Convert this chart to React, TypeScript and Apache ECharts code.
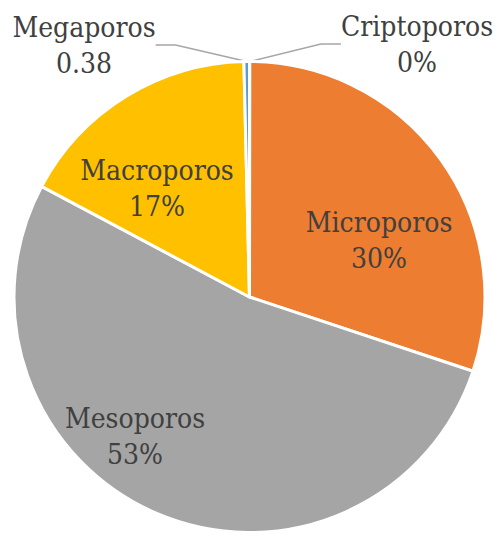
import React, { useEffect, useRef } from "react";
import * as echarts from "echarts";

const categories = ["Criptoporos", "Microporos", "Mesoporos", "Macroporos", "Megaporos"];
const values = [0.02, 30.1, 52.7, 16.85, 0.38];
const valueLabels = ["0%", "30%", "53%", "17%", "0.38"];
const colors = ["#4472C4", "#ED7D31", "#A5A5A5", "#FFC000", "#5B9BD5"];
const outsideSlices = ["Criptoporos", "Megaporos"];

// label centres (layout, not data)
const labelPos: Record<string, [number, number]> = {
  Criptoporos: [417, 44],
  Microporos: [379, 240],
  Mesoporos: [135, 436],
  Macroporos: [157, 188],
  Megaporos: [84, 45],
};

const FONT = "DejaVu Serif Condensed";

export default function App() {
  const ref = useRef<HTMLDivElement>(null);
  useEffect(() => {
    document.body.style.margin = "0";
    const chart = echarts.init(ref.current!, undefined, { renderer: "svg" });
    const data = categories.map((name, i) => {
      const outside = outsideSlices.includes(name);
      return {
        name,
        value: values[i],
        itemStyle: { color: colors[i] },
        label: { position: outside ? "outside" : "inside" },
        labelLine: { show: outside },
      };
    });
    chart.setOption({
      animation: false,
      backgroundColor: "#ffffff",
      textStyle: { fontFamily: FONT },
      series: [
        {
          type: "pie",
          center: [249.5, 297],
          radius: 235.5,
          startAngle: 90,
          clockwise: true,
          avoidLabelOverlap: false,
          data,
          itemStyle: { borderColor: "#ffffff", borderWidth: 3 },
          label: {
            show: true,
            formatter: (p: any) => `${p.name}\n${valueLabels[p.dataIndex]}`,
            fontFamily: FONT,
            fontSize: 28,
            lineHeight: 36,
            color: "#404040",
            align: "center",
          },
          labelLine: {
            lineStyle: { color: "#A6A6A6", width: 1.5 },
            length: 20,
            length2: 20,
          },
          labelLayout: (params: any) => {
            const name = categories[params.dataIndex];
            const pos = labelPos[name];
            return { x: pos[0], y: pos[1], align: "center", verticalAlign: "middle" };
          },
        },
      ],
    });
    return () => chart.dispose();
  }, []);
  return <div ref={ref} style={{ width: 498, height: 533 }} />;
}
